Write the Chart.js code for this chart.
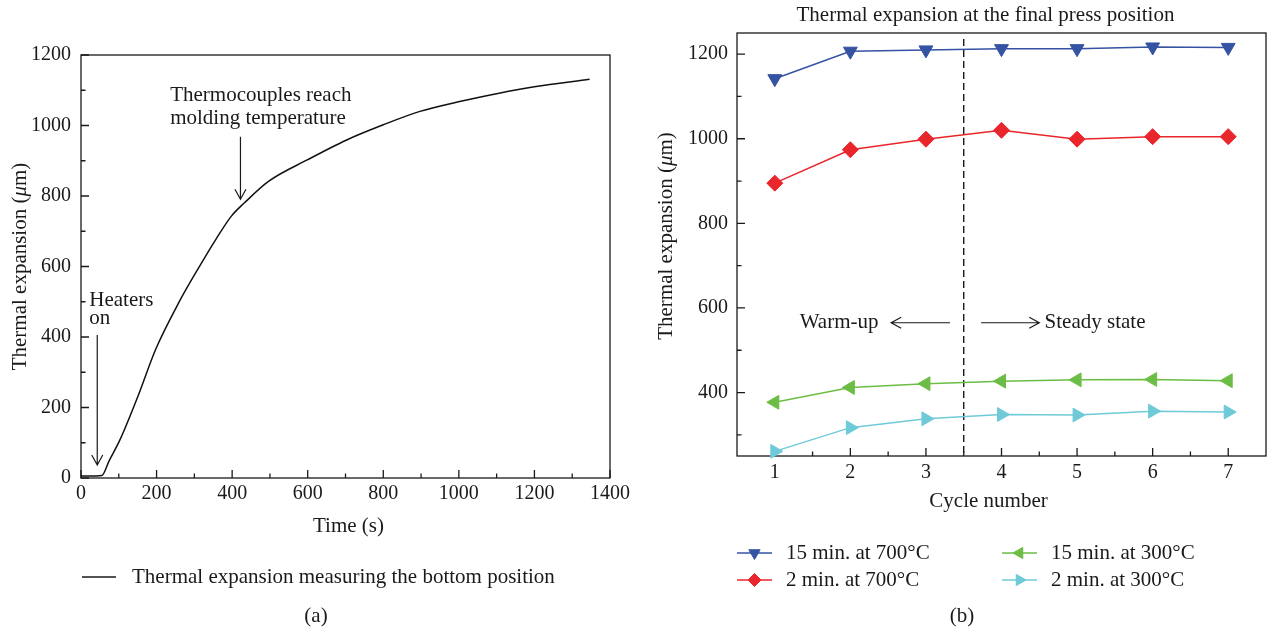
<!DOCTYPE html>
<html><head><meta charset="utf-8">
<script src="https://cdn.jsdelivr.net/npm/chart.js@4.4.1/dist/chart.umd.min.js"></script>
<style>
html,body{margin:0;padding:0;background:#fff;}
#wrap{position:relative;width:1275px;height:634px;overflow:hidden;background:#fff;}
canvas{position:absolute;top:0;}
#ca{left:0;} #cb{left:640px;}
</style></head><body>
<div id="wrap"><canvas id="ca" width="640" height="634"></canvas><canvas id="cb" width="635" height="634"></canvas></div>
<script>
// ===== Panel (a) data =====
const timeSeconds     = [0, 20, 40, 55, 75, 103, 150, 198, 259, 314, 357, 398, 432, 497, 600, 703, 800, 897, 1002, 1103, 1200, 1346];
const bottomExpansion = [6, 6, 6, 7, 50, 108, 230, 366, 498, 601, 677, 743, 780, 842, 903, 959, 1002, 1040, 1068, 1091, 1110, 1131];
const timeTicks = [0, 200, 400, 600, 800, 1000, 1200, 1400];
const timeMinorTicks = [100, 300, 500, 700, 900, 1100, 1300];
const expansionTicksA = [0, 200, 400, 600, 800, 1000, 1200];
const expansionMinorTicksA = [100, 300, 500, 700, 900, 1100];
const legendLabelA = 'Thermal expansion measuring the bottom position';

// ===== Panel (b) data =====
const cycles = [1, 2, 3, 4, 5, 6, 7];
const exp15min700 = [1142, 1207, 1210, 1213, 1213, 1217, 1216];
const exp2min700  = [895, 974, 999, 1020, 999, 1005, 1005];
const exp15min300 = [377, 412, 421, 427, 430, 431, 428];
const exp2min300  = [261, 317, 338, 348, 347, 356, 354];
const seriesLabels = ['15 min. at 700°C', '2 min. at 700°C', '15 min. at 300°C', '2 min. at 300°C'];
const cycleTicks = [1, 2, 3, 4, 5, 6, 7];
const cycleMinorTicks = [1.5, 2.5, 3.5, 4.5, 5.5, 6.5];
const expansionTicksB = [400, 600, 800, 1000, 1200];
const expansionMinorTicksB = [300, 500, 700, 900, 1100];
const warmupBoundary = 3.5;

// ===== styling =====
const FONT = '"Liberation Serif", "Times New Roman", serif';
const FS = 21;      // text size
const FS_TICK = 20; // tick label size
const INK = '#1a1a1a';

function setFont(ctx, italic) { ctx.font = (italic ? 'italic ' : '') + FS + 'px ' + FONT; }
function text(ctx, s, x, y, align) {
  setFont(ctx, false); ctx.fillStyle = INK; ctx.textAlign = align || 'left'; ctx.textBaseline = 'middle';
  ctx.fillText(s, x, y);
}
function yTitle(ctx, cx, cy) {
  const parts = [['Thermal expansion (', false], ['\u03BC', true], ['m)', false]];
  let total = 0;
  parts.forEach(p => { setFont(ctx, p[1]); total += ctx.measureText(p[0]).width; });
  ctx.save(); ctx.translate(cx, cy); ctx.rotate(-Math.PI / 2);
  ctx.fillStyle = INK; ctx.textAlign = 'left'; ctx.textBaseline = 'middle';
  let x = -total / 2;
  parts.forEach(p => { setFont(ctx, p[1]); ctx.fillText(p[0], x, 0); x += ctx.measureText(p[0]).width; });
  ctx.restore();
}
function arrow(ctx, x1, y1, x2, y2) {
  const ang = Math.atan2(y2 - y1, x2 - x1), L = 10, W = 5.5;
  ctx.save(); ctx.strokeStyle = INK; ctx.lineWidth = 1.2; ctx.beginPath();
  ctx.moveTo(x1, y1); ctx.lineTo(x2, y2);
  const bx = x2 - Math.cos(ang) * L, by = y2 - Math.sin(ang) * L;
  const nx = -Math.sin(ang) * W, ny = Math.cos(ang) * W;
  ctx.moveTo(bx + nx, by + ny); ctx.lineTo(x2, y2); ctx.lineTo(bx - nx, by - ny);
  ctx.stroke(); ctx.restore();
}
function frameAndTicks(chart, xMaj, xMin, yMaj, yMin) {
  const {ctx, chartArea: a} = chart; const x = chart.scales.x, y = chart.scales.y;
  ctx.save(); ctx.strokeStyle = INK; ctx.lineWidth = 1.3;
  ctx.strokeRect(a.left, a.top, a.right - a.left, a.bottom - a.top);
  ctx.beginPath();
  xMaj.forEach(v => { const p = x.getPixelForValue(v); ctx.moveTo(p, a.bottom); ctx.lineTo(p, a.bottom - 8); });
  xMin.forEach(v => { const p = x.getPixelForValue(v); ctx.moveTo(p, a.bottom); ctx.lineTo(p, a.bottom - 4.5); });
  yMaj.forEach(v => { const p = y.getPixelForValue(v); ctx.moveTo(a.left, p); ctx.lineTo(a.left + 8, p); });
  yMin.forEach(v => { const p = y.getPixelForValue(v); ctx.moveTo(a.left, p); ctx.lineTo(a.left + 4.5, p); });
  ctx.stroke(); ctx.restore();
}
function marker(ctx, style, rot, r, x, y, color) {
  ctx.save(); ctx.fillStyle = color; ctx.strokeStyle = color; ctx.lineWidth = 1;
  if (Chart.helpers && Chart.helpers.drawPoint) {
    Chart.helpers.drawPoint(ctx, {pointStyle: style, rotation: rot, radius: r, borderWidth: 1}, x, y);
  }
  ctx.restore();
}
const tickFont = {family: FONT, size: FS_TICK};
const plainLabel = v => String(v);

// ===== Chart (a) =====
const pluginA = {
  id: 'panelA',
  beforeDatasetsDraw(chart) { frameAndTicks(chart, timeTicks, timeMinorTicks, expansionTicksA, expansionMinorTicksA); },
  afterDraw(chart) {
    const {ctx, chartArea: a} = chart; const x = chart.scales.x, y = chart.scales.y;
    // annotations (positions in data units)
    text(ctx, 'Heaters', x.getPixelForValue(22), y.getPixelForValue(505));
    text(ctx, 'on', x.getPixelForValue(22), y.getPixelForValue(453));
    arrow(ctx, x.getPixelForValue(43), y.getPixelForValue(406), x.getPixelForValue(43), y.getPixelForValue(37));
    text(ctx, 'Thermocouples reach', x.getPixelForValue(236), y.getPixelForValue(1086));
    text(ctx, 'molding temperature', x.getPixelForValue(236), y.getPixelForValue(1020));
    arrow(ctx, x.getPixelForValue(422), y.getPixelForValue(968), x.getPixelForValue(422), y.getPixelForValue(791));
    // axis titles
    yTitle(ctx, 20, (a.top + a.bottom) / 2);
    text(ctx, 'Time (s)', (a.left + a.right) / 2 + 3, 526, 'center');
    // legend
    ctx.save(); ctx.strokeStyle = INK; ctx.lineWidth = 1.3; ctx.beginPath();
    ctx.moveTo(a.left + 1, 577); ctx.lineTo(a.left + 35, 577); ctx.stroke(); ctx.restore();
    text(ctx, legendLabelA, a.left + 51, 577);
    text(ctx, '(a)', 316, 616, 'center');
  }
};
new Chart(document.getElementById('ca'), {
  type: 'line',
  data: { datasets: [{
    label: legendLabelA,
    data: timeSeconds.map((t, i) => ({x: t, y: bottomExpansion[i]})),
    borderColor: '#111', borderWidth: 1.5, pointRadius: 0, cubicInterpolationMode: 'monotone', fill: false
  }]},
  options: {
    responsive: false, animation: false, devicePixelRatio: 1,
    layout: { padding: {left: 0, top: 55, right: 30, bottom: 0} },
    plugins: { legend: {display: false}, tooltip: {enabled: false}, title: {display: false} },
    scales: {
      x: { type: 'linear', min: 0, max: 1400,
           afterBuildTicks: s => { s.ticks = timeTicks.map(v => ({value: v})); },
           afterFit: s => { s.height = 156; },
           grid: {display: false, drawTicks: false}, border: {display: false},
           ticks: {font: tickFont, color: INK, padding: 4, maxRotation: 0, autoSkip: false, callback: plainLabel} },
      y: { type: 'linear', min: 0, max: 1200,
           afterBuildTicks: s => { s.ticks = expansionTicksA.map(v => ({value: v})); },
           afterFit: s => { s.width = 81; },
           grid: {display: false, drawTicks: false}, border: {display: false},
           ticks: {font: tickFont, color: INK, padding: 10, autoSkip: false, callback: plainLabel} }
    }
  },
  plugins: [pluginA]
});

// ===== Chart (b) =====
const seriesB = [
  {label: seriesLabels[0], values: exp15min700, color: '#3553a3', style: 'triangle', rot: 180},
  {label: seriesLabels[1], values: exp2min700,  color: '#e8262b', style: 'rectRot',  rot: 0},
  {label: seriesLabels[2], values: exp15min300, color: '#6cbd45', style: 'triangle', rot: 270},
  {label: seriesLabels[3], values: exp2min300,  color: '#6fcad8', style: 'triangle', rot: 90}
];
const pluginB = {
  id: 'panelB',
  beforeDatasetsDraw(chart) {
    const {ctx, chartArea: a} = chart; const x = chart.scales.x;
    frameAndTicks(chart, cycleTicks, cycleMinorTicks, expansionTicksB, expansionMinorTicksB);
    const px = x.getPixelForValue(warmupBoundary);
    ctx.save(); ctx.strokeStyle = INK; ctx.lineWidth = 1.4; ctx.setLineDash([7, 4]);
    ctx.beginPath(); ctx.moveTo(px, a.top + 6); ctx.lineTo(px, a.bottom); ctx.stroke(); ctx.restore();
  },
  afterDraw(chart) {
    const {ctx, chartArea: a} = chart; const x = chart.scales.x, y = chart.scales.y;
    const cx = (a.left + a.right) / 2;
    text(ctx, 'Thermal expansion at the final press position', cx - 16, 15, 'center');
    // annotations
    const ay = y.getPixelForValue(565);
    text(ctx, 'Warm-up', x.getPixelForValue(1.33), ay);
    arrow(ctx, x.getPixelForValue(3.32), ay, x.getPixelForValue(2.54), ay);
    arrow(ctx, x.getPixelForValue(3.73), ay, x.getPixelForValue(4.50), ay);
    text(ctx, 'Steady state', x.getPixelForValue(4.57), ay);
    // axis titles
    yTitle(ctx, 26, 236);
    text(ctx, 'Cycle number', cx - 13, 501, 'center');
    // legend
    const cols = [a.left, a.left + 265], rows = [553, 580];
    seriesB.forEach((s, i) => {
      const lx = cols[Math.floor(i / 2)], ly = rows[i % 2];
      ctx.save(); ctx.strokeStyle = s.color; ctx.lineWidth = 1.5; ctx.beginPath();
      ctx.moveTo(lx, ly); ctx.lineTo(lx + 35, ly); ctx.stroke(); ctx.restore();
      marker(ctx, s.style, s.rot, 6.5, lx + 17.5, ly, s.color);
      text(ctx, s.label, lx + 49, ly);
    });
    text(ctx, '(b)', 322, 616, 'center');
  }
};
new Chart(document.getElementById('cb'), {
  type: 'line',
  data: { datasets: seriesB.map(s => ({
    label: s.label,
    data: cycles.map((c, i) => ({x: c, y: s.values[i]})),
    borderColor: s.color, backgroundColor: s.color, borderWidth: 1.5,
    pointStyle: s.style, pointRotation: s.rot, pointRadius: 8, pointBorderWidth: 1,
    pointBackgroundColor: s.color, pointBorderColor: s.color, tension: 0, clip: false, fill: false
  }))},
  options: {
    responsive: false, animation: false, devicePixelRatio: 1,
    layout: { padding: {left: 0, top: 33, right: 2, bottom: 0} },
    plugins: { legend: {display: false}, tooltip: {enabled: false}, title: {display: false} },
    scales: {
      x: { type: 'linear', min: 0.5, max: 7.5,
           afterBuildTicks: s => { s.ticks = cycleTicks.map(v => ({value: v})); },
           afterFit: s => { s.height = 178; },
           grid: {display: false, drawTicks: false}, border: {display: false},
           ticks: {font: tickFont, color: INK, padding: 5, maxRotation: 0, autoSkip: false, callback: plainLabel} },
      y: { type: 'linear', min: 250, max: 1250,
           afterBuildTicks: s => { s.ticks = expansionTicksB.map(v => ({value: v})); },
           afterFit: s => { s.width = 97; },
           grid: {display: false, drawTicks: false}, border: {display: false},
           ticks: {font: tickFont, color: INK, padding: 9, autoSkip: false, callback: plainLabel} }
    }
  },
  plugins: [pluginB]
});
</script>
</body></html>
